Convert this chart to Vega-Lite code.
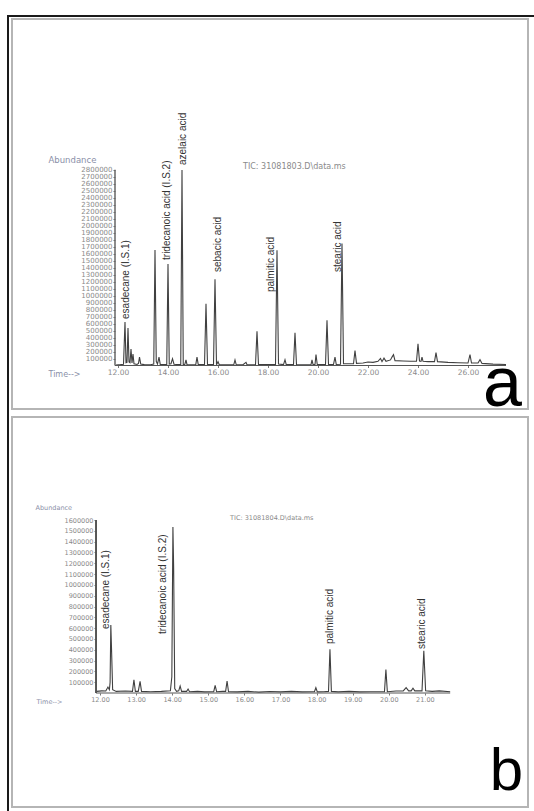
{
  "$schema": "https://vega.github.io/schema/vega-lite/v6.json",
  "padding": {"left": 4, "top": 13, "right": 0, "bottom": 0},
  "bounds": "flush",
  "spacing": 8,
  "background": "white",
  "config": {
    "view": {"stroke": "#b5b5b5", "strokeWidth": 2},
    "font": "Liberation Sans",
    "axis": {
      "grid": false, "domain": false, "labelFont": "DejaVu Sans", "labelColor": "#8a8a8a",
      "tickColor": "#777777", "tickSize": 2, "labelPadding": 1, "titleFont": "DejaVu Sans",
      "titleColor": "#8a8fa8", "titleFontWeight": "normal", "labelOverlap": false, "labelFlush": false
    }
  },
  "datasets": {
    "chromA": [
      {"t": 11.92, "v": 8000}, {"t": 12.10, "v": 12000}, {"t": 12.22, "v": 18000}, {"t": 12.28, "v": 622000},
      {"t": 12.32, "v": 40000}, {"t": 12.36, "v": 45000}, {"t": 12.40, "v": 536000}, {"t": 12.44, "v": 50000},
      {"t": 12.48, "v": 40000}, {"t": 12.52, "v": 236000}, {"t": 12.56, "v": 35000}, {"t": 12.60, "v": 165000},
      {"t": 12.64, "v": 25000}, {"t": 12.76, "v": 15000}, {"t": 12.82, "v": 30000}, {"t": 12.86, "v": 120000},
      {"t": 12.91, "v": 20000}, {"t": 13.05, "v": 12000}, {"t": 13.30, "v": 10000}, {"t": 13.43, "v": 20000},
      {"t": 13.48, "v": 1652000}, {"t": 13.53, "v": 60000}, {"t": 13.58, "v": 20000}, {"t": 13.64, "v": 120000},
      {"t": 13.69, "v": 15000}, {"t": 13.90, "v": 12000}, {"t": 13.95, "v": 15000}, {"t": 14.00, "v": 1452000},
      {"t": 14.05, "v": 20000}, {"t": 14.12, "v": 25000}, {"t": 14.18, "v": 97000}, {"t": 14.24, "v": 18000},
      {"t": 14.45, "v": 12000}, {"t": 14.51, "v": 15000}, {"t": 14.56, "v": 2797000}, {"t": 14.61, "v": 15000},
      {"t": 14.67, "v": 12000}, {"t": 14.72, "v": 79000}, {"t": 14.76, "v": 12000}, {"t": 15.00, "v": 10000},
      {"t": 15.11, "v": 12000}, {"t": 15.16, "v": 120000}, {"t": 15.21, "v": 12000}, {"t": 15.46, "v": 12000},
      {"t": 15.52, "v": 884000}, {"t": 15.58, "v": 12000}, {"t": 15.82, "v": 12000}, {"t": 15.88, "v": 1233000},
      {"t": 15.94, "v": 12000}, {"t": 16.00, "v": 55000}, {"t": 16.05, "v": 10000}, {"t": 16.40, "v": 10000},
      {"t": 16.63, "v": 10000}, {"t": 16.68, "v": 79000}, {"t": 16.73, "v": 10000}, {"t": 17.00, "v": 10000},
      {"t": 17.12, "v": 45000}, {"t": 17.16, "v": 10000}, {"t": 17.50, "v": 10000}, {"t": 17.56, "v": 489000},
      {"t": 17.62, "v": 12000}, {"t": 17.80, "v": 15000}, {"t": 18.30, "v": 12000}, {"t": 18.36, "v": 1648000},
      {"t": 18.42, "v": 20000}, {"t": 18.62, "v": 12000}, {"t": 18.68, "v": 83000}, {"t": 18.73, "v": 12000},
      {"t": 19.02, "v": 12000}, {"t": 19.08, "v": 469000}, {"t": 19.14, "v": 12000}, {"t": 19.50, "v": 10000},
      {"t": 19.72, "v": 12000}, {"t": 19.76, "v": 80000}, {"t": 19.80, "v": 15000}, {"t": 19.88, "v": 15000},
      {"t": 19.92, "v": 155000}, {"t": 19.97, "v": 15000}, {"t": 20.30, "v": 15000}, {"t": 20.36, "v": 647000},
      {"t": 20.42, "v": 15000}, {"t": 20.62, "v": 15000}, {"t": 20.68, "v": 120000}, {"t": 20.73, "v": 15000},
      {"t": 20.90, "v": 18000}, {"t": 20.96, "v": 1743000}, {"t": 21.02, "v": 25000}, {"t": 21.20, "v": 25000},
      {"t": 21.42, "v": 25000}, {"t": 21.48, "v": 212000}, {"t": 21.54, "v": 30000}, {"t": 21.80, "v": 35000},
      {"t": 22.00, "v": 50000}, {"t": 22.20, "v": 45000}, {"t": 22.40, "v": 60000}, {"t": 22.50, "v": 100000},
      {"t": 22.56, "v": 55000}, {"t": 22.64, "v": 105000}, {"t": 22.72, "v": 60000}, {"t": 22.90, "v": 80000},
      {"t": 22.96, "v": 120000}, {"t": 23.02, "v": 155000}, {"t": 23.08, "v": 70000}, {"t": 23.40, "v": 65000},
      {"t": 23.70, "v": 60000}, {"t": 23.94, "v": 60000}, {"t": 24.00, "v": 312000}, {"t": 24.06, "v": 65000},
      {"t": 24.12, "v": 60000}, {"t": 24.16, "v": 120000}, {"t": 24.20, "v": 60000}, {"t": 24.40, "v": 55000},
      {"t": 24.66, "v": 55000}, {"t": 24.72, "v": 183000}, {"t": 24.78, "v": 55000}, {"t": 25.20, "v": 45000},
      {"t": 25.60, "v": 40000}, {"t": 26.00, "v": 35000}, {"t": 26.08, "v": 155000}, {"t": 26.14, "v": 35000},
      {"t": 26.40, "v": 35000}, {"t": 26.48, "v": 83000}, {"t": 26.56, "v": 30000}, {"t": 27.00, "v": 20000},
      {"t": 27.52, "v": 15000}
    ],
    "chromB": [
      {"t": 11.90, "v": 15000}, {"t": 12.05, "v": 20000}, {"t": 12.16, "v": 18000}, {"t": 12.22, "v": 55000},
      {"t": 12.26, "v": 30000}, {"t": 12.28, "v": 100000}, {"t": 12.30, "v": 629000}, {"t": 12.32, "v": 400000},
      {"t": 12.35, "v": 30000}, {"t": 12.45, "v": 15000}, {"t": 12.70, "v": 18000}, {"t": 12.90, "v": 15000},
      {"t": 12.94, "v": 123000}, {"t": 12.98, "v": 15000}, {"t": 13.06, "v": 15000}, {"t": 13.11, "v": 108000},
      {"t": 13.15, "v": 15000}, {"t": 13.40, "v": 12000}, {"t": 13.70, "v": 15000}, {"t": 13.95, "v": 20000},
      {"t": 13.99, "v": 150000}, {"t": 14.02, "v": 1536000}, {"t": 14.04, "v": 1160000}, {"t": 14.07, "v": 40000},
      {"t": 14.12, "v": 15000}, {"t": 14.18, "v": 20000}, {"t": 14.22, "v": 65000}, {"t": 14.26, "v": 15000},
      {"t": 14.40, "v": 15000}, {"t": 14.44, "v": 37000}, {"t": 14.48, "v": 12000}, {"t": 14.70, "v": 15000},
      {"t": 14.90, "v": 10000}, {"t": 15.15, "v": 12000}, {"t": 15.19, "v": 71000}, {"t": 15.23, "v": 12000},
      {"t": 15.40, "v": 15000}, {"t": 15.48, "v": 15000}, {"t": 15.52, "v": 111000}, {"t": 15.56, "v": 12000},
      {"t": 15.80, "v": 10000}, {"t": 16.10, "v": 15000}, {"t": 16.40, "v": 8000}, {"t": 16.70, "v": 14000},
      {"t": 17.00, "v": 10000}, {"t": 17.30, "v": 15000}, {"t": 17.60, "v": 10000}, {"t": 17.94, "v": 12000},
      {"t": 17.98, "v": 49000}, {"t": 18.02, "v": 10000}, {"t": 18.20, "v": 12000}, {"t": 18.33, "v": 15000},
      {"t": 18.37, "v": 404000}, {"t": 18.41, "v": 15000}, {"t": 18.60, "v": 10000}, {"t": 18.90, "v": 15000},
      {"t": 19.20, "v": 10000}, {"t": 19.50, "v": 12000}, {"t": 19.88, "v": 12000}, {"t": 19.92, "v": 216000},
      {"t": 19.96, "v": 12000}, {"t": 20.20, "v": 18000}, {"t": 20.40, "v": 20000}, {"t": 20.48, "v": 49000},
      {"t": 20.55, "v": 20000}, {"t": 20.62, "v": 20000}, {"t": 20.67, "v": 45000}, {"t": 20.72, "v": 20000},
      {"t": 20.92, "v": 20000}, {"t": 20.97, "v": 390000}, {"t": 21.02, "v": 20000}, {"t": 21.20, "v": 15000},
      {"t": 21.40, "v": 20000}, {"t": 21.70, "v": 12000}
    ],
    "labelsA": [
      {"name": "esadecane (I.S.1)", "t": 12.32, "v": 665000},
      {"name": "tridecanoic acid (I.S.2)", "t": 13.96, "v": 1509000},
      {"name": "azelaic acid", "t": 14.60, "v": 2867000},
      {"name": "sebacic acid", "t": 16.00, "v": 1337000},
      {"name": "palmitic acid", "t": 18.12, "v": 1051000},
      {"name": "stearic acid", "t": 20.80, "v": 1337000}
    ],
    "labelsB": [
      {"name": "esadecane (I.S.1)", "t": 12.166, "v": 592000},
      {"name": "tridecanoic acid (I.S.2)", "t": 13.745, "v": 546000},
      {"name": "palmitic acid", "t": 18.371, "v": 453000},
      {"name": "stearic acid", "t": 20.92, "v": 407000}
    ]
  },
  "vconcat": [
    {
      "width": 516,
      "height": 390,
      "encoding": {
        "x": {"type": "quantitative", "scale": {"domain": [7.76, 28.4], "nice": false, "zero": false},
          "axis": {"values": [12, 14, 16, 18, 20, 22, 24, 26], "format": ".2f", "offset": -43.5, "labelFontSize": 7.5,
            "title": "Time-->", "titleFontSize": 8, "titleAngle": 0, "titleAlign": "left", "titleBaseline": "middle", "titleX": 36, "titleY": 8.5}},
        "y": {"type": "quantitative", "scale": {"domain": [-622063, 4955054], "nice": false, "zero": false},
          "axis": {"values": [100000, 200000, 300000, 400000, 500000, 600000, 700000, 800000, 900000, 1000000, 1100000, 1200000, 1300000, 1400000, 1500000, 1600000, 1700000, 1800000, 1900000, 2000000, 2100000, 2200000, 2300000, 2400000, 2500000, 2600000, 2700000, 2800000],
            "format": "d", "offset": -103, "labelFontSize": 7, "labelBaseline": "middle",
            "title": "Abundance", "titleFontSize": 8.5, "titleAngle": 0, "titleAlign": "left", "titleBaseline": "middle", "titleX": -67, "titleY": 140}}
      },
      "layer": [
        {
          "data": {"name": "chromA"},
          "mark": {"type": "line", "color": "#404040", "strokeWidth": 1.1},
          "encoding": {"x": {"field": "t"}, "y": {"field": "v"}}
        },
        {
          "data": {"values": [{}]},
          "mark": {"type": "rule", "color": "#666666", "strokeWidth": 1.5},
          "encoding": {"x": {"datum": 11.88}, "y": {"datum": 0}, "y2": {"datum": 2800000}}
        },
        {
          "data": {"values": [{}]},
          "mark": {"type": "rule", "color": "#555555", "strokeWidth": 1},
          "encoding": {"x": {"datum": 11.88}, "x2": {"datum": 27.52}, "y": {"datum": 0}}
        },
        {
          "data": {"name": "labelsA"},
          "mark": {"type": "text", "angle": 270, "align": "left", "baseline": "middle", "fontSize": 10, "color": "#333333"},
          "encoding": {"x": {"field": "t"}, "y": {"field": "v"}, "text": {"field": "name"}}
        },
        {
          "data": {"values": [{}]},
          "mark": {"type": "text", "align": "left", "baseline": "middle", "font": "DejaVu Sans", "fontSize": 8, "color": "#8a8a8a", "text": "TIC: 31081803.D\\data.ms"},
          "encoding": {"x": {"datum": 17.0}, "y": {"datum": 2839000}}
        },
        {
          "data": {"values": [{}]},
          "mark": {"type": "text", "align": "right", "baseline": "alphabetic", "fontSize": 70, "color": "#000000", "text": "a"},
          "encoding": {"x": {"datum": 28.16}, "y": {"datum": -579000}}
        },
        {
          "data": {"values": [{}]},
          "mark": {"type": "rule", "color": "#1a1a1a", "strokeWidth": 2},
          "encoding": {"x": {"datum": 7.56}, "x2": {"datum": 28.76}, "y": {"datum": 4997955}}
        },
        {
          "data": {"values": [{}]},
          "mark": {"type": "rule", "color": "#1a1a1a", "strokeWidth": 2},
          "encoding": {"x": {"datum": 7.60}, "y": {"datum": 5012255}, "y2": {"datum": -736466}}
        }
      ]
    },
    {
      "width": 516,
      "height": 390,
      "encoding": {
        "x": {"type": "quantitative", "scale": {"domain": [9.5623, 23.8561], "nice": false, "zero": false},
          "axis": {"values": [12, 13, 14, 15, 16, 17, 18, 19, 20, 21], "format": ".2f", "offset": -114, "labelFontSize": 6.5,
            "title": "Time-->", "titleFontSize": 6.5, "titleAngle": 0, "titleAlign": "left", "titleBaseline": "middle", "titleX": 24, "titleY": 8}},
        "y": {"type": "quantitative", "scale": {"domain": [-1054335, 2552601], "nice": false, "zero": false},
          "axis": {"values": [100000, 200000, 300000, 400000, 500000, 600000, 700000, 800000, 900000, 1000000, 1100000, 1200000, 1300000, 1400000, 1500000, 1600000],
            "format": "d", "offset": -84, "labelFontSize": 6.5, "labelBaseline": "middle",
            "title": "Abundance", "titleFontSize": 6.5, "titleAngle": 0, "titleAlign": "left", "titleBaseline": "middle", "titleX": -61, "titleY": 90}}
      },
      "layer": [
        {
          "data": {"name": "chromB"},
          "mark": {"type": "line", "color": "#404040", "strokeWidth": 1.1},
          "encoding": {"x": {"field": "t"}, "y": {"field": "v"}}
        },
        {
          "data": {"values": [{}]},
          "mark": {"type": "rule", "color": "#555555", "strokeWidth": 2},
          "encoding": {"x": {"datum": 11.89}, "y": {"datum": 0}, "y2": {"datum": 1600000}}
        },
        {
          "data": {"values": [{}]},
          "mark": {"type": "rule", "color": "#555555", "strokeWidth": 1},
          "encoding": {"x": {"datum": 11.89}, "x2": {"datum": 21.7}, "y": {"datum": 0}}
        },
        {
          "data": {"name": "labelsB"},
          "mark": {"type": "text", "angle": 270, "align": "left", "baseline": "middle", "fontSize": 10, "color": "#333333"},
          "encoding": {"x": {"field": "t"}, "y": {"field": "v"}, "text": {"field": "name"}}
        },
        {
          "data": {"values": [{}]},
          "mark": {"type": "text", "align": "left", "baseline": "middle", "font": "DejaVu Sans", "fontSize": 6.5, "color": "#8a8a8a", "text": "TIC: 31081804.D\\data.ms"},
          "encoding": {"x": {"datum": 15.601}, "y": {"datum": 1618500}}
        },
        {
          "data": {"values": [{}]},
          "mark": {"type": "text", "align": "right", "baseline": "alphabetic", "fontSize": 60, "color": "#000000", "text": "b"},
          "encoding": {"x": {"datum": 23.718}, "y": {"datum": -897000}}
        },
        {
          "data": {"values": [{}]},
          "mark": {"type": "rule", "color": "#1a1a1a", "strokeWidth": 2},
          "encoding": {"x": {"datum": 9.4515}, "y": {"datum": 2552601}, "y2": {"datum": -1109826}}
        }
      ]
    }
  ]
}
